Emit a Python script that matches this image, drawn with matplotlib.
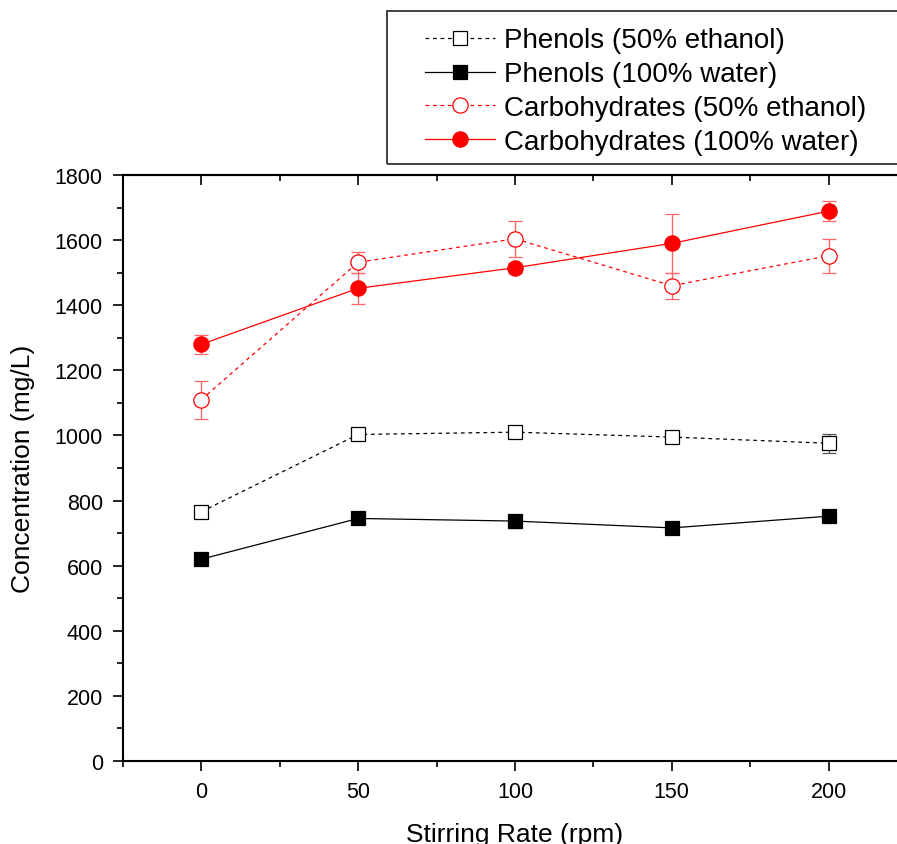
import numpy as np
import matplotlib
matplotlib.use("Agg")
import matplotlib.pyplot as plt
from matplotlib.patches import Rectangle

plt.rcParams['font.family'] = ['Liberation Sans', 'DejaVu Sans']

# Datos
rate = np.array([0, 50, 100, 150, 200])

phen_eth = np.array([766, 1003, 1010, 995, 976])
phen_eth_err = np.array([15, 15, 15, 12, 29])

phen_wat = np.array([620, 745, 737, 716, 752])
phen_wat_err = np.array([18, 15, 20, 10, 10])

carb_eth = np.array([1110, 1532, 1604, 1460, 1552])
carb_eth_err = np.array([58, 33, 55, 40, 52])

carb_wat = np.array([1280, 1452, 1515, 1590, 1689])
carb_wat_err = np.array([30, 47, 15, 90, 30])

labels = ["Phenols (50% ethanol)", "Phenols (100% water)",
          "Carbohydrates (50% ethanol)", "Carbohydrates (100% water)"]

W, H = 897, 845
fig = plt.figure(figsize=(W / 100, H / 100), dpi=100)
ax = fig.add_axes([123 / W, 1 - 762 / H, (907 - 123) / W, (762 - 176) / H])

red = '#ff0000'
ekw = dict(capsize=4.7, elinewidth=1.0, capthick=1.0)

h1 = ax.errorbar(rate, phen_eth, yerr=phen_eth_err, color='black', ls=(0, (3, 3)), lw=0.9,
                 marker='s', ms=9.5, mfc='white', mec='black', mew=0.9,
                 ecolor='#555555', **ekw)
h2 = ax.errorbar(rate, phen_wat, yerr=phen_wat_err, color='black', ls='-', lw=0.9,
                 marker='s', ms=9.5, mfc='black', mec='black', mew=0.9,
                 ecolor='#555555', **ekw)
h3 = ax.errorbar(rate, carb_eth, yerr=carb_eth_err, color=red, ls=(0, (3, 3)), lw=0.9,
                 marker='o', ms=11, mfc='white', mec=red, mew=0.9,
                 ecolor='#ff6666', **ekw)
h4 = ax.errorbar(rate, carb_wat, yerr=carb_wat_err, color=red, ls='-', lw=0.9,
                 marker='o', ms=11, mfc=red, mec=red, mew=0.9,
                 ecolor='#ff6666', **ekw)

ax.set_xlim(-25, 225)
ax.set_ylim(0, 1800)
ax.set_xticks([0, 50, 100, 150, 200])
ax.set_xticks(np.arange(-25, 226, 25), minor=True)
ax.set_yticks(np.arange(0, 1801, 200))
ax.set_yticks(np.arange(0, 1801, 100), minor=True)

for s in ax.spines.values():
    s.set_linewidth(1.5)

ax.tick_params(axis='both', which='both', width=1.2, labelsize=15.5, pad=7)
ax.tick_params(which='major', length=7.5)
ax.tick_params(which='minor', length=4.5)
ax.tick_params(axis='x', which='both', direction='out', top=False)
ax.tick_params(axis='y', which='both', direction='out', right=False)

# ticks hacia adentro en los ejes superior y derecho
sec_x = ax.secondary_xaxis('top')
sec_x.set_xticks([0, 50, 100, 150, 200])
sec_x.set_xticks(np.arange(-25, 226, 25), minor=True)
sec_x.tick_params(which='both', direction='in', labeltop=False, width=1.2)
sec_x.tick_params(which='major', length=7.5)
sec_x.tick_params(which='minor', length=4.5)
sec_x.spines['top'].set_linewidth(1.5)
sec_y = ax.secondary_yaxis('right')
sec_y.set_yticks(np.arange(0, 1801, 200))
sec_y.set_yticks(np.arange(0, 1801, 100), minor=True)
sec_y.tick_params(which='both', direction='in', labelright=False, width=1.2)
sec_y.tick_params(which='major', length=7.5)
sec_y.tick_params(which='minor', length=4.5)

ax.set_xlabel("Stirring Rate (rpm)", fontsize=19, labelpad=14)
ax.set_ylabel("Concentration (mg/L)", fontsize=19, labelpad=14)

# marco de la leyenda
fig.add_artist(Rectangle((387 / W, 1 - 165 / H), (930 - 387) / W, (165 - 12) / H,
                         transform=fig.transFigure, fill=False, lw=1.2, ec='#222222'))

handles = [h1[0], h2[0], h3[0], h4[0]]
leg = fig.legend(handles, labels, loc='upper left',
                 bbox_to_anchor=(425 / W, 1 - 28.5 / H),
                 bbox_transform=fig.transFigure, borderaxespad=0, borderpad=0,
                 fontsize=20, frameon=False,
                 handlelength=2.52, handletextpad=0.32,
                 labelspacing=0.28, numpoints=1)

fig.savefig("out.png", dpi=100)
